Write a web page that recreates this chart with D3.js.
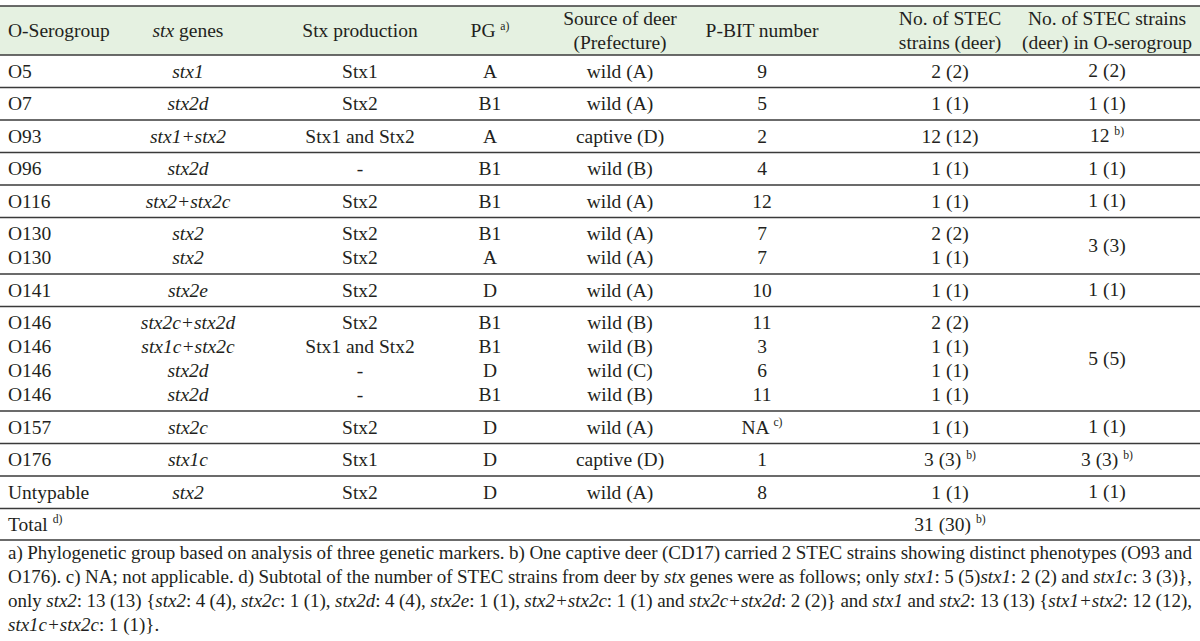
<!DOCTYPE html>
<html><head><meta charset="utf-8">
<script src="https://cdn.jsdelivr.net/npm/d3@7"></script>
<style>
body{margin:0;background:#fff}
svg{display:block}
text{font-family:"Liberation Serif","Times New Roman",serif;fill:#231f20}
</style>
</head><body><svg id="c" width="1200" height="641"></svg>
<script>
// ---------- data ----------
const columns = ["sero","genes","prod","pg","source","pbit","strains","group"];
const headers = [
  ["O-Serogroup"], ["*stx* genes"], ["Stx production"], ["PG ^a)"],
  ["Source of deer","(Prefecture)"], ["P-BIT number"],
  ["No. of STEC","strains (deer)"], ["No. of STEC strains","(deer) in O-serogroup"]
];
const serogroups = ["O5","O7","O93","O96","O116","O130","O130","O141","O146","O146","O146","O146","O157","O176","Untypable"];
const stxGenes = ["*stx1*","*stx2d*","*stx1+stx2*","*stx2d*","*stx2+stx2c*","*stx2*","*stx2*","*stx2e*","*stx2c+stx2d*","*stx1c+stx2c*","*stx2d*","*stx2d*","*stx2c*","*stx1c*","*stx2*"];
const stxProduction = ["Stx1","Stx2","Stx1 and Stx2","-","Stx2","Stx2","Stx2","Stx2","Stx2","Stx1 and Stx2","-","-","Stx2","Stx1","Stx2"];
const pg = ["A","B1","A","B1","B1","B1","A","D","B1","B1","D","B1","D","D","D"];
const source = ["wild (A)","wild (A)","captive (D)","wild (B)","wild (A)","wild (A)","wild (A)","wild (A)","wild (B)","wild (B)","wild (C)","wild (B)","wild (A)","captive (D)","wild (A)"];
const pbit = ["9","5","2","4","12","7","7","10","11","3","6","11","NA ^c)","1","8"];
const strains = ["2 (2)","1 (1)","12 (12)","1 (1)","1 (1)","2 (2)","1 (1)","1 (1)","2 (2)","1 (1)","1 (1)","1 (1)","1 (1)","3 (3) ^b)","1 (1)"];
const groupSizes = [1,1,1,1,1,2,1,4,1,1,1];
const groupStrains = ["2 (2)","1 (1)","12 ^b)","1 (1)","1 (1)","3 (3)","1 (1)","5 (5)","1 (1)","3 (3) ^b)","1 (1)"];
const totalLabel = "Total ^d)";
const totalStrains = "31 (30) ^b)";
const footnotes = [
  "a) Phylogenetic group based on analysis of three genetic markers. b) One captive deer (CD17) carried 2 STEC strains showing distinct phenotypes (O93 and",
  "O176). c) NA; not applicable. d) Subtotal of the number of STEC strains from deer by *stx* genes were as follows; only *stx1*: 5 (5)*stx1*: 2 (2) and *stx1c*: 3 (3)},",
  "only *stx2*: 13 (13) {*stx2*: 4 (4), *stx2c*: 1 (1), *stx2d*: 4 (4), *stx2e*: 1 (1), *stx2+stx2c*: 1 (1) and *stx2c+stx2d*: 2 (2)} and *stx1* and *stx2*: 13 (13) {*stx1+stx2*: 12 (12),",
  "*stx1c+stx2c*: 1 (1)}."
];

// ---------- layout ----------
const svg = d3.select("#c");
const W = 1200, FS = 19.5, FFS = 19;
const x = d3.scaleOrdinal().domain(columns).range([8,188,360,490,620,762,950,1107]);
const anchorOf = c => c === "sero" ? "start" : "middle";
const topY = 6, headBottom = 55, singleH = 32.5, subH = 24;

// rich-text: *italic*, ^superscript (to end)
function rich(g, str, px, py, anchor, fs) {
  fs = fs || FS;
  const t = g.append("text").attr("x", px).attr("y", py)
    .attr("text-anchor", anchor).attr("font-size", fs);
  let main = str, sup = null;
  const k = str.indexOf("^");
  if (k >= 0) { main = str.slice(0,k); sup = str.slice(k+1); }
  main.split("*").forEach((s,i) => {
    if (!s) return;
    t.append("tspan").attr("font-style", i%2 ? "italic" : "normal").text(s);
  });
  if (sup) t.append("tspan").attr("font-size", fs*0.6).attr("dy", -fs*0.36).text(sup);
  return t;
}

// header background
svg.append("rect").attr("x",0).attr("y",topY).attr("width",W).attr("height",headBottom-topY).attr("fill","#e5f1e1");

const gH = svg.append("g");
headers.forEach((lines,i) => {
  const c = columns[i];
  if (lines.length === 1) rich(gH, lines[0], x(c), 37, anchorOf(c));
  else lines.forEach((l,j) => rich(gH, l, x(c), 25 + j*24, anchorOf(c)));
});

// rows
const rowCols = [serogroups, stxGenes, stxProduction, pg, source, pbit, strains];
const ruleYs = [topY, headBottom];
const gB = svg.append("g");
let y0 = headBottom, r = 0;
groupSizes.forEach((n,gi) => {
  const h = singleH + subH*(n-1);
  for (let i=0;i<n;i++,r++) {
    const cy = y0 + 16.5 + subH*i;
    rowCols.forEach((arr,ci) => rich(gB, arr[r], x(columns[ci]), cy+6, anchorOf(columns[ci])));
  }
  rich(gB, groupStrains[gi], x("group"), y0 + h/2 + 6, "middle");
  y0 += h;
  ruleYs.push(y0);
});
// total row
rich(gB, totalLabel, x("sero"), y0 + 16 + 6, "start");
rich(gB, totalStrains, x("strains"), y0 + 16 + 6, "middle");
y0 += 31.5;
ruleYs.push(y0);

svg.append("g").selectAll("line").data(ruleYs).join("line")
  .attr("x1",0).attr("x2",W).attr("y1",d=>d).attr("y2",d=>d)
  .attr("stroke","#3a3a3a").attr("stroke-width",1.6);

// footnotes (justified)
const gF = svg.append("g");
const fx0 = 8, fx1 = 1192;
footnotes.forEach((line,li) => {
  const by = 559 + li*24;
  const words = line.split(" ");
  const nodes = words.map(w => rich(gF, w, 0, by, "start", FFS));
  const widths = nodes.map(n => n.node().getComputedTextLength());
  const sum = d3.sum(widths);
  const last = li === footnotes.length-1;
  const gap = last ? FFS*0.25 : (fx1-fx0-sum)/(words.length-1);
  let cx = fx0;
  nodes.forEach((n,i) => { n.attr("x", cx); cx += widths[i] + gap; });
});
</script>
</body></html>
